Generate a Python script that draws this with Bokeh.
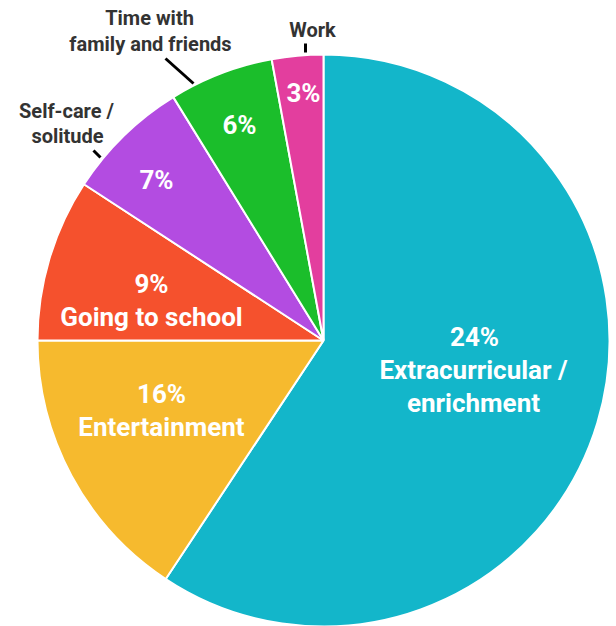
import numpy as np
from bokeh.plotting import figure
from bokeh.models import ColumnDataSource
from bokeh.core.properties import value
from bokeh.embed import file_html
from bokeh.resources import INLINE

# ---- data ----
categories = ["Extracurricular / enrichment", "Entertainment", "Going to school",
              "Self-care / solitude", "Time with family and friends", "Work"]
shares = [59.3, 15.7, 9.2, 7.0, 5.9, 2.9]   # visual share of the pie
pct_labels = ["24%", "16%", "9%", "7%", "6%", "3%"]
colors = ["#13B6CA", "#F6BA2E", "#F5512D", "#B34CE1", "#1BBE2B", "#E33E9E"]

# ---- layout ----
W, H = 616, 626
OX, OY = 0, 626          # screen offsets: data x = sx - OX, data y = OY - sy
CX, CY, R = 323, 340, 286


def dx(sx):
    return sx - OX


def dy(sy):
    return OY - sy


vals = np.array(shares, dtype=float)
frac = vals / vals.sum()
cum = np.concatenate([[0], np.cumsum(frac)])
end_ang = np.pi / 2 - cum[:-1] * 2 * np.pi
start_ang = np.pi / 2 - cum[1:] * 2 * np.pi

src = ColumnDataSource(dict(cat=categories, start=start_ang, end=end_ang, color=colors))

p = figure(width=W, height=H, x_range=(0, W), y_range=(0, H),
           output_backend="svg", toolbar_location=None, min_border=0)
p.axis.visible = False
p.grid.visible = False
p.outline_line_color = None
p.background_fill_color = "white"
p.border_fill_color = "white"

p.wedge(x=dx(CX), y=dy(CY), radius=R, start_angle="start", end_angle="end",
        direction="anticlock", fill_color="color", line_color="white",
        line_width=2, source=src)

FONT = value("Roboto")

# inside labels: (lines, screen center positions)
inside = [
    ([pct_labels[0], "Extracurricular /", "enrichment"], [(474, 336), (473, 369), (473, 402)]),
    ([pct_labels[1], "Entertainment"], [(161, 393), (161, 426)]),
    ([pct_labels[2], "Going to school"], [(151, 283), (151, 316)]),
    ([pct_labels[3]], [(156, 179)]),
    ([pct_labels[4]], [(239, 124)]),
    ([pct_labels[5]], [(303, 92)]),
]
for lines, pos in inside:
    p.text(x=[dx(a) for a, b in pos], y=[dy(b) for a, b in pos], text=lines,
           text_font=FONT, text_font_style="bold", text_font_size="26px",
           text_color="white", text_align="center", text_baseline="middle")

outside = [
    (["Self-care /", "solitude"], [(66, 110), (67, 135)]),
    (["Time with", "family and friends"], [(149, 17), (150, 43)]),
    (["Work"], [(312, 29)]),
]
for lines, pos in outside:
    p.text(x=[dx(a) for a, b in pos], y=[dy(b) for a, b in pos], text=lines,
           text_font=FONT, text_font_style="bold", text_font_size="20px",
           text_color="#333333", text_align="center", text_baseline="middle")

leaders = [((93, 150), (100, 157)), ((165, 58), (193, 83)), ((305, 43), (305, 52))]
p.segment(x0=[dx(a[0]) for a, b in leaders], y0=[dy(a[1]) for a, b in leaders],
          x1=[dx(b[0]) for a, b in leaders], y1=[dy(b[1]) for a, b in leaders],
          line_color="black", line_width=3)

open("out.html", "w").write(file_html(p, INLINE))
